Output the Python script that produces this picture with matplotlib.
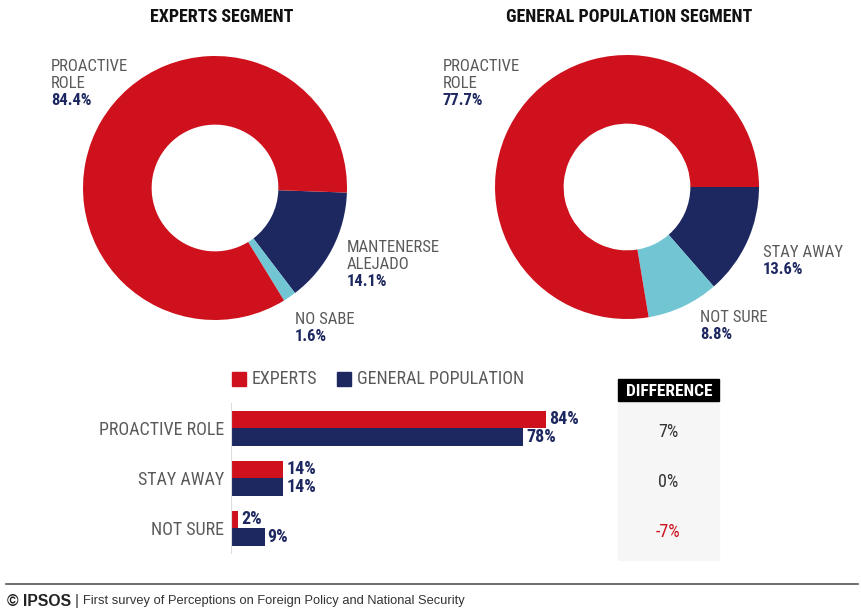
import matplotlib
matplotlib.use("Agg")
import matplotlib.pyplot as plt
from matplotlib.patches import Rectangle

W, H = 862, 610
RED = "#CE111C"
NAVY = "#1E2860"
LIGHT = "#72C6D4"
GRAY = "#5A5A5A"

plt.rcParams["font.family"] = ["Roboto Condensed", "Liberation Sans Narrow", "DejaVu Sans"]
FOOT_FONT = ["Liberation Sans", "DejaVu Sans"]

# donuts: share of each answer (clockwise from 3 o'clock: navy, light blue, red)
experts_labels = ["MANTENERSE\nALEJADO", "NO SABE", "PROACTIVE\nROLE"]
experts_vals = [14.1, 1.6, 84.4]
general_labels = ["STAY AWAY", "NOT SURE", "PROACTIVE\nROLE"]
general_vals = [13.6, 8.8, 77.7]

# bar comparison
categories = ["PROACTIVE ROLE", "STAY AWAY", "NOT SURE"]
experts_pct = [84, 14, 2]
general_pct = [78, 14, 9]
difference = ["7%", "0%", "-7%"]
diff_colors = ["#333333", "#333333", RED]


def box(x, y, w, h):
    """pixel box (top-left origin) -> figure fraction rect"""
    return [x / W, 1 - (y + h) / H, w / W, h / H]


def txt(x, y, s, **kw):
    kw.setdefault("va", "center")
    return fig.text(x / W, 1 - y / H, s, **kw)


fig = plt.figure(figsize=(W / 100, H / 100), dpi=100)
fig.patch.set_facecolor("white")


def donut(rect, vals, start):
    ax = fig.add_axes(rect)
    ax.pie(vals, colors=[NAVY, LIGHT, RED], startangle=start, counterclock=False,
           radius=1, wedgeprops=dict(width=0.52, edgecolor="none"))
    ax.set_xlim(-1, 1)
    ax.set_ylim(-1, 1)
    ax.set_aspect("equal")
    ax.axis("off")


donut(box(83, 56, 264, 264), experts_vals, -2)
donut(box(495, 55, 264, 264), general_vals, 0)

txt(222, 17, "EXPERTS SEGMENT", ha="center", fontsize=13, fontweight="bold", color="#111111")
txt(629, 17, "GENERAL POPULATION SEGMENT", ha="center", fontsize=13, fontweight="bold", color="#111111")


def pie_label(x, y, name, val):
    # one text per line so the leading stays tight
    lines = name.split("\n")
    for k, line in enumerate(lines):
        txt(x, y + 17 * k, line, ha="left", va="top", fontsize=12, color=GRAY)
    txt(x, y + 17 * len(lines), f"{val}%", ha="left", va="top", fontsize=12,
        fontweight="bold", color=NAVY)


pie_label(51, 59, experts_labels[2], experts_vals[2])
pie_label(347, 240, experts_labels[0], experts_vals[0])
pie_label(295, 312, experts_labels[1], experts_vals[1])
pie_label(443, 59, general_labels[2], general_vals[2])
pie_label(763, 245, general_labels[0], general_vals[0])
pie_label(700, 310, general_labels[1], general_vals[1])

# legend
fig.patches.append(Rectangle((232 / W, 1 - 386 / H), 14 / W, 14 / H,
                             transform=fig.transFigure, color=RED))
txt(252, 379, "EXPERTS", ha="left", fontsize=13, color=GRAY)
fig.patches.append(Rectangle((337 / W, 1 - 386 / H), 14 / W, 14 / H,
                             transform=fig.transFigure, color=NAVY))
txt(357, 379, "GENERAL POPULATION", ha="left", fontsize=13, color=GRAY)

# horizontal bars
axb = fig.add_axes(box(231, 403, 375, 150))
y = range(len(categories))
bh = 0.35
axb.barh([i - bh / 2 for i in y], experts_pct, height=bh, color=RED)
axb.barh([i + bh / 2 for i in y], general_pct, height=bh, color=NAVY)
for i in y:
    axb.text(experts_pct[i] + 0.8, i - bh / 2, f"{experts_pct[i]}%", va="center",
             ha="left", fontsize=13, fontweight="bold", color=NAVY)
    axb.text(general_pct[i] + 0.8, i + bh / 2, f"{general_pct[i]}%", va="center",
             ha="left", fontsize=13, fontweight="bold", color=NAVY)
axb.set_xlim(0, 100)
axb.set_ylim(2.5, -0.5)
axb.set_yticks(list(y))
axb.set_yticklabels(categories, fontsize=13, color=GRAY)
axb.tick_params(axis="y", length=0, pad=5)
axb.set_xticks([])
for s in ["top", "right", "bottom"]:
    axb.spines[s].set_visible(False)
axb.spines["left"].set_color("#DDDDDD")
axb.patch.set_alpha(0)

# difference column
fig.patches.append(Rectangle((618 / W, 1 - 560 / H), 101 / W, 160 / H,
                             transform=fig.transFigure, color="#F6F6F6", zorder=0))
fig.patches.append(Rectangle((618 / W, 1 - 401 / H), 101 / W, 22 / H,
                             transform=fig.transFigure, color="black"))
txt(669, 391, "DIFFERENCE", ha="center", fontsize=12.5, fontweight="bold", color="white")
for i, d in enumerate(difference):
    txt(668, 432 + 50 * i, d, ha="center", fontsize=13, color=diff_colors[i])

# footer
fig.add_artist(plt.Line2D([6 / W, 858 / W], [1 - 584 / H] * 2, color="#555555", lw=1.2,
                          transform=fig.transFigure))
txt(7, 601, "© IPSOS", ha="left", fontsize=11.3, fontweight="bold", color="#222222",
    family=FOOT_FONT)
txt(75, 601, "|", ha="left", fontsize=11, color="#333333", family=FOOT_FONT)
txt(83, 601, "First survey of Perceptions on Foreign Policy and National Security",
    ha="left", fontsize=9.3, color="#333333", family=FOOT_FONT)

fig.savefig("out.png", dpi=100, facecolor="white")
